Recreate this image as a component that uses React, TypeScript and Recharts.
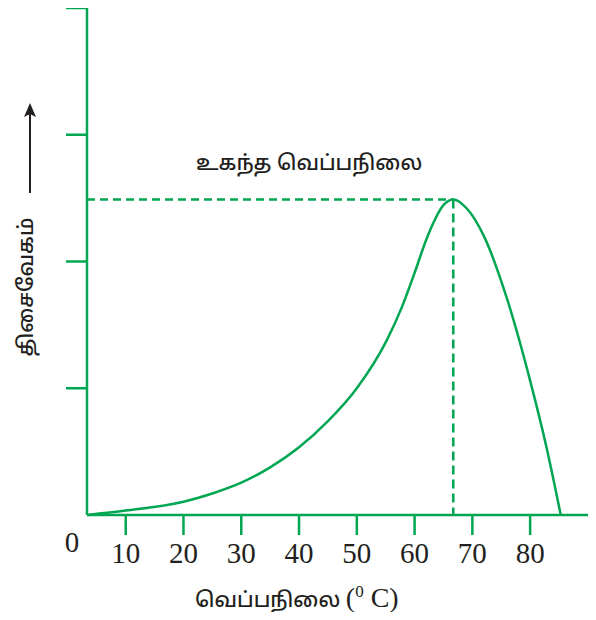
import React from 'react';
import { Line, LineChart, ReferenceLine, XAxis, YAxis } from 'recharts';

// temperature (°C) vs rate
const temperatures = [3.3, 10, 20, 25, 30, 35, 40, 45, 50, 55.2, 57.8, 60, 62, 63.2, 64.9, 66.7, 69, 72, 75.9, 80, 82.8, 85.3];
const rates = [0, 0.035, 0.105, 0.17, 0.255, 0.376, 0.534, 0.74, 1.0, 1.38, 1.64, 1.91, 2.17, 2.3, 2.44, 2.49, 2.42, 2.2, 1.72, 1.06, 0.54, 0];
const xTicks = [10, 20, 30, 40, 50, 60, 70, 80];
const yTicks = [1, 2, 3, 4];
const optimumTemp = 66.7;
const optimumRate = 2.49;

const data = temperatures.map((t, i) => ({ temp: t, rate: rates[i] }));

const GREEN = '#00a651';
const INK = '#231f20';
const TAMIL = "'Noto Sans Tamil', 'Lohit Tamil', 'Noto Sans', sans-serif";
const SERIF = "'Liberation Serif', 'DejaVu Serif', serif";

export default function App() {
  return (
    <div style={{ width: 596, height: 620, margin: -8 }}>
      <LineChart width={596} height={620} data={data} margin={{ top: 8, right: 0, bottom: 0, left: 0 }}>
        <XAxis
          dataKey="temp"
          type="number"
          domain={[3.3, 91.4]}
          ticks={xTicks}
          allowDataOverflow
          height={105}
          stroke={GREEN}
          strokeWidth={2.5}
          tickSize={20}
          tickMargin={7}
          tick={{ fill: INK, fontSize: 29, fontFamily: SERIF }}
        />
        <YAxis
          type="number"
          domain={[0, 4]}
          ticks={yTicks}
          width={87}
          stroke={GREEN}
          strokeWidth={2.5}
          tickSize={21}
          tickFormatter={() => ''}
        />
        <ReferenceLine
          segment={[{ x: 3.3, y: optimumRate }, { x: optimumTemp, y: optimumRate }]}
          stroke={GREEN}
          strokeWidth={2.5}
          strokeDasharray="8 5"
        />
        <ReferenceLine
          segment={[{ x: optimumTemp, y: optimumRate }, { x: optimumTemp, y: 0 }]}
          stroke={GREEN}
          strokeWidth={2.5}
          strokeDasharray="9 5"
        />
        <Line
          dataKey="rate"
          type="monotone"
          stroke={GREEN}
          strokeWidth={2.5}
          dot={false}
          isAnimationActive={false}
        />
        <text x={72} y={552} textAnchor="middle" fill={INK} fontSize={29} fontFamily={SERIF}>0</text>
        <text x={196} y={170} fill={INK} fontSize={21} fontWeight={500} fontFamily={TAMIL}>உகந்த வெப்பநிலை</text>
        <text x={195} y={607} fill={INK} fontSize={21} fontWeight={500} fontFamily={TAMIL}>
          வெப்பநிலை{' '}
          <tspan fontFamily={SERIF} fontWeight={400} fontSize={28}>(</tspan>
          <tspan fontFamily={SERIF} fontWeight={400} fontSize={17} dy={-10}>0</tspan>
          <tspan fontFamily={SERIF} fontWeight={400} fontSize={28} dy={10}> C)</tspan>
        </text>
        <text
          x={0}
          y={0}
          transform="translate(33 287) rotate(-90)"
          textAnchor="middle"
          fill={INK}
          fontSize={21}
          fontWeight={500}
          fontFamily={TAMIL}
        >
          திசைவேகம்
        </text>
        <line x1={30} y1={193} x2={30} y2={112} stroke={INK} strokeWidth={2} />
        <path d="M30 103 L24 117 L30 114 L36 117 Z" fill={INK} />
      </LineChart>
    </div>
  );
}
